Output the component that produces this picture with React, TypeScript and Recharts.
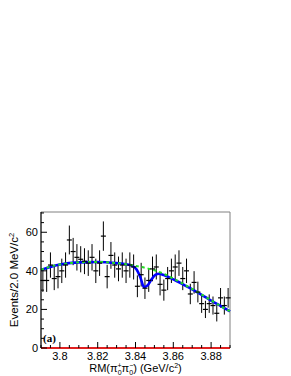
import { ComposedChart, Line, Scatter, ErrorBar, XAxis, YAxis, ReferenceArea } from "recharts";

// bin centres of RM(pi pi), 2 MeV bins
const binCenters = [
  3.791, 3.793, 3.795, 3.797, 3.799, 3.801, 3.803, 3.805, 3.807, 3.809,
  3.811, 3.813, 3.815, 3.817, 3.819, 3.821, 3.823, 3.825, 3.827, 3.829,
  3.831, 3.833, 3.835, 3.837, 3.839, 3.841, 3.843, 3.845, 3.847, 3.849,
  3.851, 3.853, 3.855, 3.857, 3.859, 3.861, 3.863, 3.865, 3.867, 3.869,
  3.871, 3.873, 3.875, 3.877, 3.879, 3.881, 3.883, 3.885, 3.887, 3.889,
];
const counts = [
  35, 35, 43, 36, 37, 40, 43, 56, 50, 47,
  46, 45, 44, 47, 40, 44, 58, 37, 48, 43,
  41, 43, 40, 43, 42, 32, 38, 31, 35, 41,
  42, 33, 30, 36, 40, 42, 44, 36, 40, 28,
  34, 29, 23, 20, 23, 22, 18, 26, 22, 26,
];

// background shape (green dashed)
const bkgX = [3.79, 3.795, 3.8, 3.805, 3.81, 3.815, 3.82, 3.825, 3.83, 3.835, 3.84, 3.845, 3.85, 3.855, 3.86, 3.865, 3.87, 3.875, 3.88, 3.885, 3.89];
const bkgY = [40.5, 42.2, 43.3, 44.0, 44.4, 44.6, 44.6, 44.4, 44.0, 43.4, 42.6, 41.6, 40.3, 38.4, 36.0, 33.4, 30.6, 27.7, 24.7, 21.8, 19.0];

// total fit (blue)
const totX = [3.79, 3.8, 3.81, 3.82, 3.83, 3.835, 3.838, 3.8405, 3.8425, 3.8445, 3.8465, 3.8485, 3.8505, 3.8525, 3.855, 3.858, 3.862, 3.866, 3.87, 3.875, 3.88, 3.885, 3.89];
const totY = [40.5, 43.3, 44.4, 44.6, 44.0, 43.4, 42.7, 40.8, 36.8, 31.6, 32.6, 35.6, 37.9, 38.5, 37.8, 36.5, 34.6, 32.5, 30.4, 27.6, 24.6, 21.8, 19.0];

// peaking background (red, flat at zero)
const redX = [3.79, 3.89];
const redY = [0, 0];

const xTicks = [3.79, 3.795, 3.8, 3.805, 3.81, 3.815, 3.82, 3.825, 3.83, 3.835, 3.84, 3.845, 3.85, 3.855, 3.86, 3.865, 3.87, 3.875, 3.88, 3.885, 3.89];
const xMajor = [3.8, 3.82, 3.84, 3.86, 3.88];
const yTicks = [0, 5, 10, 15, 20, 25, 30, 35, 40, 45, 50, 55, 60, 65, 70];
const yMajor = [0, 20, 40, 60];

const points = binCenters.map((x, i) => ({ x, y: counts[i], err: Math.sqrt(counts[i]) }));
const bkgData = bkgX.map((x, i) => ({ x, y: bkgY[i] }));
const totData = totX.map((x, i) => ({ x, y: totY[i] }));
const redData = redX.map((x, i) => ({ x, y: redY[i] }));

const FONT = "'Liberation Sans', Arial, Helvetica, sans-serif";

const isMajor = (v: number, list: number[]) => list.some((m) => Math.abs(m - v) < 1e-6);

function XTick(props: any) {
  const { x, y, payload } = props;
  const major = isMajor(payload.value, xMajor);
  const axisY = y - 4;
  return (
    <g>
      <line x1={x} x2={x} y1={axisY} y2={axisY - (major ? 6 : 3)} stroke="#000" strokeWidth={1} />
      {major && (
        <text x={x} y={y} dy="0.71em" textAnchor="middle" fontSize={11} fontFamily={FONT} fill="#000">
          {payload.value.toFixed(payload.value === 3.8 ? 1 : 2)}
        </text>
      )}
    </g>
  );
}

function YTick(props: any) {
  const { x, y, payload } = props;
  const major = isMajor(payload.value, yMajor);
  const axisX = x + 3;
  return (
    <g>
      <line x1={axisX} x2={axisX + (major ? 6 : 3)} y1={y} y2={y} stroke="#000" strokeWidth={1} />
      {major && (
        <text x={x} y={y} dy="0.35em" textAnchor="end" fontSize={11} fontFamily={FONT} fill="#000">
          {payload.value}
        </text>
      )}
    </g>
  );
}

function XTitle(props: any) {
  const { viewBox } = props;
  const cx = viewBox.x + viewBox.width / 2;
  const by = viewBox.y + 24;
  return (
    <text x={cx} y={by} textAnchor="middle" fontSize={11} fontFamily={FONT} fill="#000">
      RM(π
      <tspan dy={-4} fontSize={7}>+</tspan>
      <tspan dx={-4} dy={7} fontSize={7}>0</tspan>
      <tspan dy={-3}>π</tspan>
      <tspan dy={-4} fontSize={7}>−</tspan>
      <tspan dx={-4} dy={7} fontSize={7}>0</tspan>
      <tspan dy={-3}>) (GeV/c</tspan>
      <tspan dy={-4} fontSize={7}>2</tspan>
      <tspan dy={4}>)</tspan>
    </text>
  );
}

function YTitle(props: any) {
  const { viewBox } = props;
  const cy = viewBox.y + viewBox.height / 2;
  const bx = 18;
  return (
    <text
      x={bx}
      y={cy}
      transform={`rotate(-90 ${bx} ${cy})`}
      textAnchor="middle"
      fontSize={11.5}
      fontFamily={FONT}
      fill="#000"
    >
      Events/2.0 MeV/c
      <tspan dy={-4} fontSize={7.5}>2</tspan>
    </text>
  );
}

const barShape = (props: any) => {
  const { cx, cy } = props;
  return <line x1={cx - 2.5} x2={cx + 2.5} y1={cy} y2={cy} stroke="#000" strokeWidth={1.2} />;
};

export default function App() {
  return (
    <div style={{ position: "absolute", left: 0, top: 0, width: 291, height: 376, background: "#fff" }}>
      <ComposedChart width={291} height={376} margin={{ top: 212, right: 61, bottom: 0, left: 11 }}>
        <ReferenceArea x1={3.79} x2={3.89} y1={0} y2={70.5} fill="none" stroke="#808080" strokeWidth={1} />
        <XAxis
          type="number"
          dataKey="x"
          domain={[3.79, 3.89]}
          ticks={xTicks}
          interval={0}
          tickSize={0}
          tickMargin={4}
          tickLine={false}
          tick={<XTick />}
          height={28}
          axisLine={false}
          label={<XTitle />}
        />
        <YAxis
          type="number"
          dataKey="y"
          domain={[0, 70.5]}
          ticks={yTicks}
          interval={0}
          tickSize={0}
          tickMargin={3}
          tickLine={false}
          tick={<YTick />}
          width={30}
          axisLine={{ stroke: "#000", strokeWidth: 1 }}
          label={<YTitle />}
        />
        <Scatter data={points} shape={barShape} isAnimationActive={false}>
          <ErrorBar dataKey="err" direction="y" width={0} stroke="#000" strokeWidth={1} />
        </Scatter>
        <Line data={redData} dataKey="y" type="linear" stroke="#e02020" strokeWidth={2.2} dot={false} isAnimationActive={false} />
        <Line data={totData} dataKey="y" type="monotone" stroke="#0000ff" strokeWidth={2.6} dot={false} isAnimationActive={false} />
        <Line data={bkgData} dataKey="y" type="monotone" stroke="#22dd22" strokeWidth={2} strokeDasharray="3 3" dot={false} isAnimationActive={false} />
      </ComposedChart>
      <div
        style={{
          position: "absolute",
          left: 43,
          top: 332,
          fontFamily: "'Liberation Serif', 'Times New Roman', serif",
          fontWeight: "bold",
          fontSize: 11,
          lineHeight: "12px",
        }}
      >
        (a)
      </div>
    </div>
  );
}
